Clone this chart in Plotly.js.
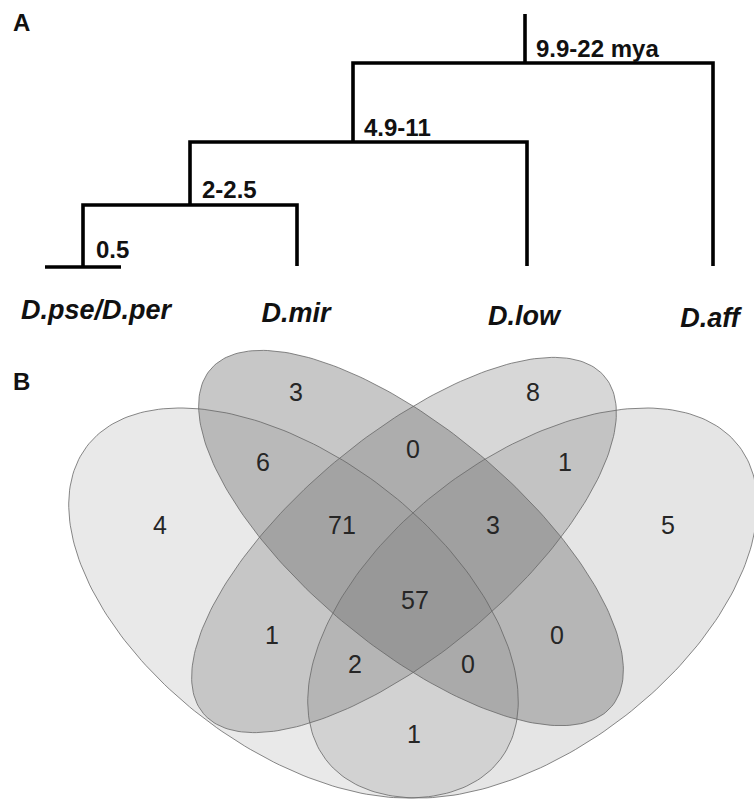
<!DOCTYPE html>
<html><head><meta charset="utf-8">
<script src="https://cdn.plot.ly/plotly-3.0.1.min.js"></script>
<style>html,body{margin:0;padding:0;background:#fff}#chart{width:754px;height:803px}</style>
</head><body><div id="chart"></div>
<script>
// ---------- data ----------
// Panel A: phylogeny of four species, divergence times (million years ago)
const species = ['D.pse/D.per', 'D.mir', 'D.low', 'D.aff'];
const divergenceLabels = ['0.5', '2-2.5', '4.9-11', '9.9-22 mya'];
// Panel B: shared gene counts per Venn region
const vennSets = ['D.pse/D.per', 'D.mir', 'D.low', 'D.aff'];
const regionMembers = ['pse', 'mir', 'low', 'aff', 'pse&mir', 'mir&low', 'low&aff',
  'pse&mir&low', 'mir&low&aff', 'pse&mir&low&aff', 'pse&low', 'mir&aff',
  'pse&low&aff', 'pse&mir&aff', 'pse&aff'];
const regionCounts = [4, 3, 8, 5, 6, 0, 1, 71, 3, 57, 1, 0, 2, 0, 1];

// ---------- layout geometry (page pixel units) ----------
const leafX = [83, 297, 527, 713];
const leafBottom = 266;
const nodeX = [83, 190, 353, 525];      // split nodes, youngest to oldest
const nodeY = [267, 205, 142, 63];
const rootTop = 14;
const barHalf = 38;
const nodeLabelPos = [[94, 249], [200, 189], [362, 127], [534, 48]];
const speciesPos = [[96, 312], [296, 315], [524, 318], [710, 320]];

const ellipses = [ // cx, cy, semi-major, semi-minor, angle(deg), alpha
  {cx: 293.5, cy: 603, a: 259.3, b: 146, ang: 37.1, al: 0.14},
  {cx: 411, cy: 538, a: 262, b: 108, ang: 40, al: 0.36},
  {cx: 404, cy: 545, a: 262, b: 108, ang: 140, al: 0.26},
  {cx: 532.5, cy: 603, a: 259.3, b: 146, ang: 142.9, al: 0.17}
];
const labelPos = [[160, 528], [296, 395], [533, 395], [668, 528], [263, 465], [413, 452],
  [565, 465], [342, 528], [493, 528], [415, 603], [272, 638], [557, 638],
  [355, 667], [468, 667], [414, 737]];

const traces = [];

// tree
const tx = [], ty = [];
function seg(pts) { pts.forEach(p => { tx.push(p[0]); ty.push(p[1]); }); tx.push(null); ty.push(null); }
seg([[nodeX[0] - barHalf, nodeY[0]], [nodeX[0] + barHalf, nodeY[0]]]);
seg([[leafX[0], nodeY[0]], [leafX[0], nodeY[1]], [leafX[1], nodeY[1]], [leafX[1], leafBottom]]);
seg([[nodeX[1], nodeY[1]], [nodeX[1], nodeY[2]], [leafX[2], nodeY[2]], [leafX[2], leafBottom]]);
seg([[nodeX[2], nodeY[2]], [nodeX[2], nodeY[3]], [leafX[3], nodeY[3]], [leafX[3], leafBottom]]);
seg([[nodeX[3], nodeY[3]], [nodeX[3], rootTop]]);
traces.push({x: tx, y: ty, mode: 'lines', line: {color: '#000', width: 3.6}, hoverinfo: 'skip'});

// Venn ellipses
ellipses.forEach((e, i) => {
  const xs = [], ys = [], t = e.ang * Math.PI / 180, N = 240;
  for (let k = 0; k <= N; k++) {
    const s = 2 * Math.PI * k / N;
    const u = e.a * Math.cos(s), v = e.b * Math.sin(s);
    xs.push(e.cx + u * Math.cos(t) - v * Math.sin(t));
    ys.push(e.cy + u * Math.sin(t) + v * Math.cos(t));
  }
  traces.push({x: xs, y: ys, mode: 'lines', fill: 'toself', name: vennSets[i],
    fillcolor: 'rgba(100,100,100,' + e.al + ')',
    line: {color: 'rgba(105,105,105,0.8)', width: 1}, hoverinfo: 'skip'});
});

// Venn counts
traces.push({x: labelPos.map(p => p[0]), y: labelPos.map(p => p[1]),
  text: regionCounts.map(String), customdata: regionMembers,
  mode: 'text', textposition: 'middle center',
  textfont: {family: 'Liberation Sans, Arial, sans-serif', size: 25, color: '#262626'},
  hoverinfo: 'skip'});

// species names
traces.push({x: speciesPos.map(p => p[0]), y: speciesPos.map(p => p[1]),
  text: species.map(s => '<b><i>' + s + '</i></b>'),
  mode: 'text', textposition: 'middle center',
  textfont: {family: 'Liberation Sans, Arial, sans-serif', size: 27, color: '#111'},
  hoverinfo: 'skip'});

const annotations = divergenceLabels.map((t, i) => ({
  x: nodeLabelPos[i][0], y: nodeLabelPos[i][1], xref: 'x', yref: 'y',
  text: '<b>' + t + '</b>', showarrow: false, xanchor: 'left', yanchor: 'middle',
  font: {family: 'Liberation Sans, Arial, sans-serif', size: 24, color: '#111'}
}));
[['A', 21, 22], ['B', 21, 381]].forEach(p => annotations.push({
  x: p[1], y: p[2], xref: 'x', yref: 'y', text: '<b>' + p[0] + '</b>', showarrow: false,
  xanchor: 'center', yanchor: 'middle',
  font: {family: 'Liberation Sans, Arial, sans-serif', size: 24, color: '#111'}
}));

const layout = {
  width: 754, height: 803, margin: {l: 0, r: 0, t: 0, b: 0},
  paper_bgcolor: '#fff', plot_bgcolor: '#fff', showlegend: false,
  xaxis: {range: [0, 754], visible: false, fixedrange: true},
  yaxis: {range: [803, 0], visible: false, fixedrange: true},
  annotations: annotations, hovermode: false
};
Plotly.newPlot('chart', traces, layout, {staticPlot: true, displayModeBar: false});
</script>
</body></html>
